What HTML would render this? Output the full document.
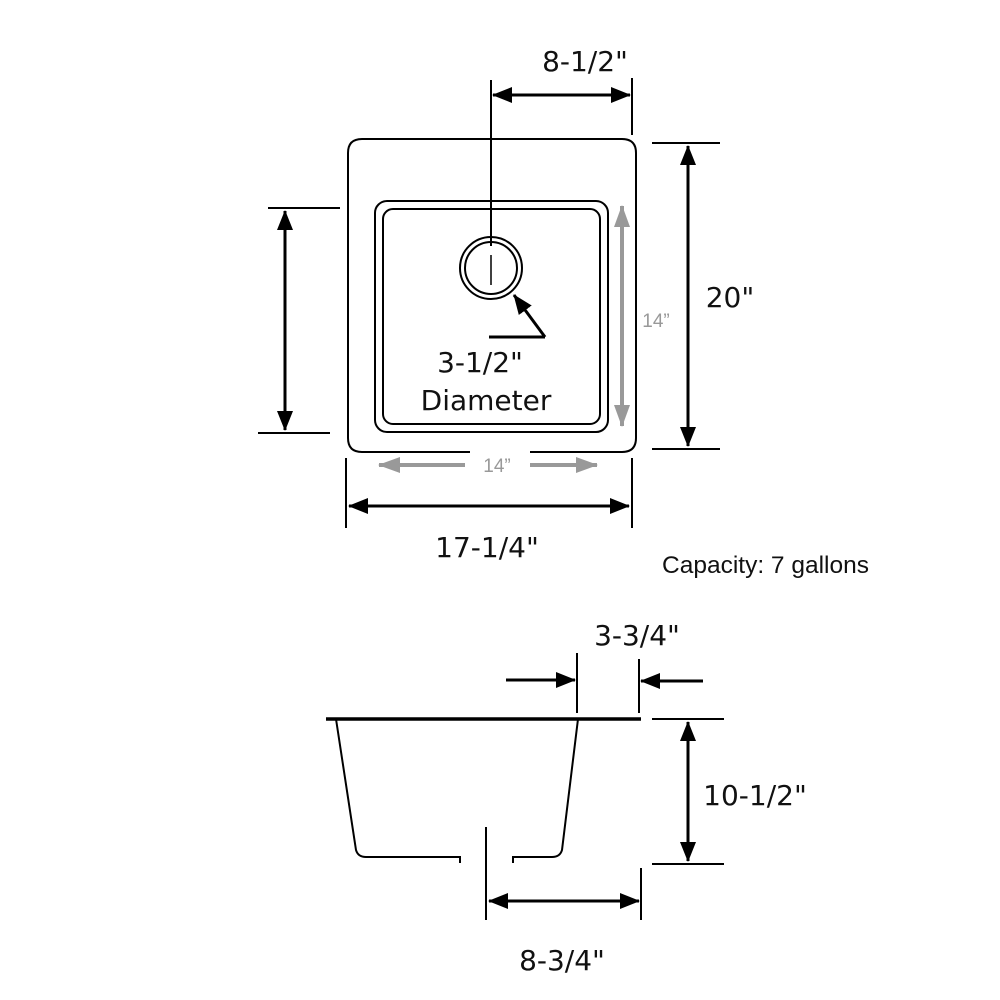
<!DOCTYPE html>
<html><head><meta charset="utf-8"><style>body{margin:0;background:#fff}svg{display:block}</style></head><body>
<svg width="1000" height="1000" viewBox="0 0 1000 1000" xmlns="http://www.w3.org/2000/svg">
<defs>
<marker id="a" markerWidth="20" markerHeight="16" refX="19" refY="8" orient="auto-start-reverse" markerUnits="userSpaceOnUse" viewBox="0 0 20 16"><path d="M0,0 L20,8 L0,16 z" fill="#000"/></marker>
<marker id="g" markerWidth="22" markerHeight="16" refX="21" refY="8" orient="auto-start-reverse" markerUnits="userSpaceOnUse" viewBox="0 0 22 16"><path d="M0,0 L22,8 L0,16 z" fill="#999"/></marker>
</defs>
<g fill="none" stroke="#000" stroke-width="2">
<path d="M470,452 H362 Q348,452 348,438 V153 Q348,139 362,139 H622 Q636,139 636,153 V438 Q636,452 622,452 H530"/>
<rect x="375" y="201" width="233" height="231" rx="12"/>
<rect x="383" y="209" width="217" height="215" rx="10"/>
<circle cx="491" cy="268" r="31"/>
<circle cx="491" cy="268" r="26"/>
<line x1="491" y1="80" x2="491" y2="246"/>
<line x1="491" y1="255" x2="491" y2="285" stroke-width="1.5"/>
<line x1="632" y1="78" x2="632" y2="135"/>
<line x1="493" y1="95" x2="630" y2="95" marker-start="url(#a)" marker-end="url(#a)" stroke-width="3"/>
<line x1="652" y1="143" x2="720" y2="143"/><line x1="652" y1="449" x2="720" y2="449"/>
<line x1="688" y1="146" x2="688" y2="446" marker-start="url(#a)" marker-end="url(#a)" stroke-width="3"/>
<line x1="268" y1="208" x2="340" y2="208"/><line x1="258" y1="433" x2="330" y2="433"/>
<line x1="285" y1="211" x2="285" y2="430" marker-start="url(#a)" marker-end="url(#a)" stroke-width="3"/>
<line x1="346" y1="458" x2="346" y2="528"/><line x1="632" y1="458" x2="632" y2="528"/>
<line x1="349" y1="506" x2="629" y2="506" marker-start="url(#a)" marker-end="url(#a)" stroke-width="3"/>
<line x1="489" y1="337" x2="545" y2="337" stroke-width="3"/>
<line x1="545" y1="337" x2="514" y2="295" marker-end="url(#a)" stroke-width="3"/>
<line x1="326" y1="719" x2="641" y2="719" stroke-width="3.5"/>
<path d="M336,719 L356,850 Q358,857 366,857 H460 V863"/>
<path d="M578,719 L562,850 Q560,857 552,857 H513 V863"/>
<line x1="486" y1="827" x2="486" y2="920"/>
<line x1="577" y1="653" x2="577" y2="713"/><line x1="639" y1="659" x2="639" y2="713"/>
<line x1="506" y1="680" x2="575" y2="680" marker-end="url(#a)" stroke-width="3"/>
<line x1="703" y1="681" x2="641" y2="681" marker-end="url(#a)" stroke-width="3"/>
<line x1="652" y1="719" x2="724" y2="719"/><line x1="652" y1="864" x2="724" y2="864"/>
<line x1="688" y1="722" x2="688" y2="861" marker-start="url(#a)" marker-end="url(#a)" stroke-width="3"/>
<line x1="641" y1="868" x2="641" y2="920"/>
<line x1="489" y1="901" x2="639" y2="901" marker-start="url(#a)" marker-end="url(#a)" stroke-width="3"/>
</g>
<g stroke="#999" stroke-width="4">
<line x1="622" y1="206" x2="622" y2="426" marker-start="url(#g)" marker-end="url(#g)"/>
<line x1="379" y1="465" x2="465" y2="465" marker-start="url(#g)"/>
<line x1="530" y1="465" x2="597" y2="465" marker-end="url(#g)"/>
</g>
<g font-family="'DejaVu Sans','Liberation Sans',sans-serif" font-size="28" fill="#111" text-anchor="middle">
<text x="585" y="71">8-1/2"</text>
<text x="730" y="307">20"</text>
<text x="487" y="557">17-1/4"</text>
<text x="480" y="372">3-1/2"</text>
<text x="486" y="410">Diameter</text>
<text x="637" y="645">3-3/4"</text>
<text x="755" y="805">10-1/2"</text>
<text x="562" y="970">8-3/4"</text>
</g>
<g font-family="'Liberation Sans',sans-serif" font-size="19" fill="#999" text-anchor="middle">
<text x="656" y="327">14”</text>
<text x="497" y="472">14”</text>
</g>
<text x="662" y="573" font-family="'Liberation Sans',sans-serif" font-size="24.5" fill="#111">Capacity: 7 gallons</text>
</svg>
</body></html>
